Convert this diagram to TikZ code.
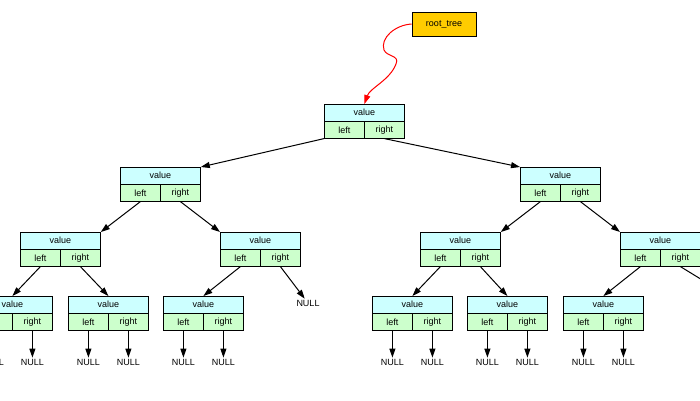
\documentclass[tikz,border=0pt]{standalone}
\usepackage{fontspec}
\setmainfont{Liberation Sans}
\usetikzlibrary{arrows.meta,positioning}
\definecolor{valfill}{HTML}{CCFFFF}
\definecolor{ptrfill}{HTML}{CCFFCC}
\definecolor{rootfill}{HTML}{FFCC00}
\begin{document}
\begin{tikzpicture}[x=1pt,y=-1pt,
  valcell/.style={draw,line width=0.8pt,fill=valfill,minimum width=80pt,minimum height=16.5pt,inner sep=0pt,font=\fontsize{9}{10}\selectfont},
  ptrcell/.style={valcell,fill=ptrfill,minimum width=40pt},
  nullnode/.style={inner sep=1pt,font=\fontsize{9}{10}\selectfont},
  link/.style={line width=1pt,-{Triangle[length=9pt,width=6pt]}}]
\useasboundingbox (0,0) rectangle (700,400);
% tree nodes: value on top, left/right below
\foreach \n/\x/\y in {r/324/104, a/120/167, b/520/167, aa/20/232, ab/220/232, ba/420/232, bb/620/232,
    aaa/-28/296, aab/68/296, aba/163/296, baa/372/296, bab/467/296, bba/563/296} {
  \node[valcell,anchor=north west] (\n) at (\x,\y) {value};
  \node[ptrcell,anchor=north west] (\n-l) at (\n.south west) {left};
  \node[ptrcell,anchor=north east] (\n-r) at (\n.south east) {right};
}
\node[draw,line width=0.8pt,fill=rootfill,minimum width=64pt,minimum height=24pt,font=\fontsize{9}{10}\selectfont] (root) at (444,24) {root\_tree};
\draw[red,line width=1pt,-{Triangle[length=9pt,width=6pt]}] (root.west) .. controls (395,25) and (380,38) .. (384,50) .. controls (387,57) and (400,55) .. (396,64) .. controls (390,80) and (370,88) .. (r.north);
% links between nodes
\foreach \s/\t in {r-l.south west/a.north east, r-r.south/b.north west,
    a-l.south/aa.north east, a-r.south/ab.north west, b-l.south/ba.north east, b-r.south/bb.north west,
    aa-l.south/aaa.north, aa-r.south/aab.north, ab-l.south/aba.north,
    ba-l.south/baa.north, ba-r.south/bab.north, bb-l.south/bba.north} {
  \draw[link] (\s) -- (\t);
}
\node[nullnode] (ab-rn) at (308,303) {NULL};
\draw[link] (ab-r.south) -- (ab-rn);
\coordinate (bb-rn) at (735,300);
\draw[link] (bb-r.south) -- (bb-rn);
% NULL leaves
\foreach \n in {aaa,aab,aba,baa,bab,bba} {
  \node[nullnode,below=27pt of \n-l] (\n-ln) {NULL};
  \node[nullnode,below=27pt of \n-r] (\n-rn) {NULL};
  \draw[link] (\n-l) -- (\n-ln);
  \draw[link] (\n-r) -- (\n-rn);
}
\end{tikzpicture}
\end{document}
